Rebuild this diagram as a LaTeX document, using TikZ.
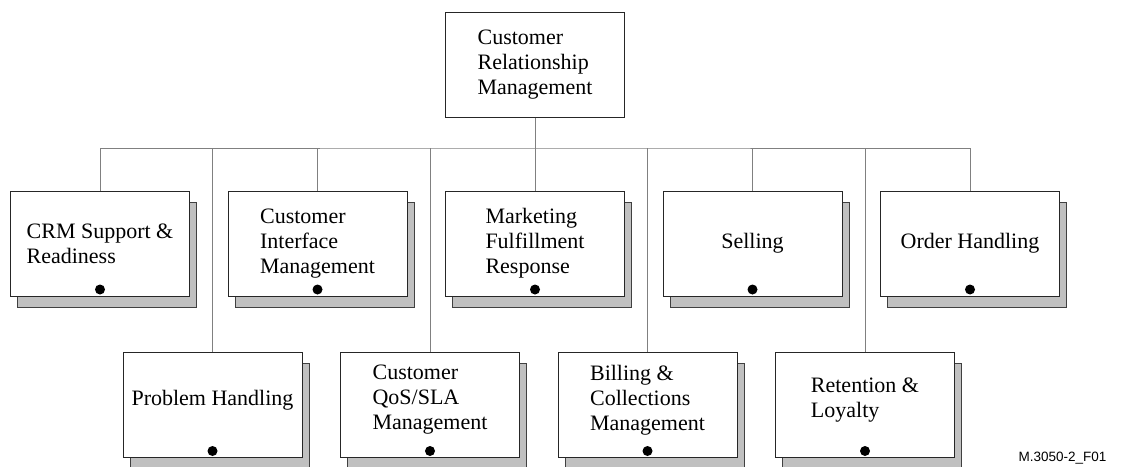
\documentclass[tikz,border=0pt]{standalone}
\usepackage{fontspec}
\setmainfont{Liberation Serif}
\newfontfamily\figfont{Liberation Sans}
\usetikzlibrary{positioning, shadows}
\definecolor{shadegray}{HTML}{C0C0C0}
\definecolor{linkgray}{HTML}{808080}
\tikzset{
    node distance=217.5pt,
    basebox/.style={draw=black!85, line width=1pt, fill=white, minimum width=179pt,
        minimum height=105pt, inner sep=2pt, align=left,
        font=\fontsize{22}{25}\selectfont},
    process/.style={basebox, drop shadow={shadow xshift=7pt, shadow yshift=-11pt,
        opacity=1, fill=shadegray, draw=black!75, line width=1pt}},
    lower/.style={process, text depth=15pt},
    link/.style={draw=linkgray, line width=0.8pt},
}

\begin{document}
\begin{tikzpicture}[x=1pt, y=-1pt]
    \useasboundingbox (0,0) rectangle (1123,466);

    \node[basebox] (crm) at (535,64.5) {Customer\\Relationship\\Management};

    \node[process] (crs) at (100,243.5) {CRM Support \&\\Readiness};
    \node[process, right of=crs] (cim) {Customer\\Interface\\Management};
    \node[process, right of=cim] (mkt) {Marketing\\Fulfillment\\Response};
    \node[process, right of=mkt] (sel) {Selling};
    \node[process, right of=sel] (ordh) {Order Handling};

    \node[lower] (prob) at (212.5,405) {Problem Handling};
    \node[lower, right of=prob] (qos) {Customer\\QoS/SLA\\Management};
    \node[lower, right of=qos] (bill) {Billing \&\\Collections\\Management};
    \node[lower, right of=bill] (ret) {Retention \&\\Loyalty};

    \coordinate (bus) at (535,148);
    \draw[link] (crs) |- (bus) -| (ordh);
    \draw[link] (crm) -- (mkt);
    \foreach \n in {cim, sel, prob, qos, bill, ret}
        \draw[link] (\n) -- (\n |- bus);

    \foreach \n in {crs, cim, mkt, sel, ordh, prob, qos, bill, ret}
        \fill ([yshift=7pt]\n.south) circle (5);

    \node[font=\figfont\fontsize{13.5}{16}\selectfont, anchor=base east] (figid)
        at (1110,461) {M.3050-2\_F01};
\end{tikzpicture}
\end{document}
